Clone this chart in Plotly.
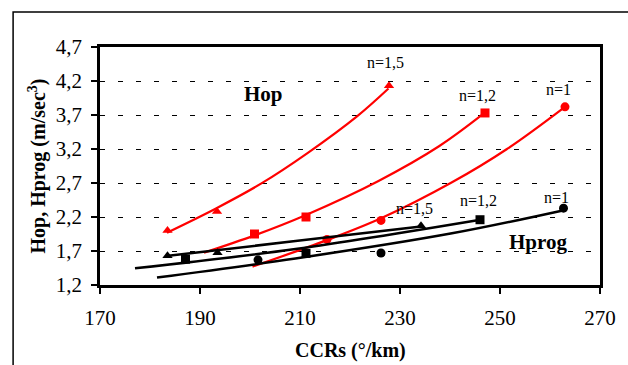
import plotly.graph_objects as go

# --- measured points (CCRs in °/km, H in m/sec^3) ---
hop_15_x = [183.5, 193.4, 227.8]
hop_15_y = [2.00, 2.28, 4.13]
hop_12_x = [200.9, 211.2, 247.0]
hop_12_y = [1.95, 2.20, 3.73]
hop_10_x = [215.4, 226.2, 263.0]
hop_10_y = [1.87, 2.15, 3.82]

hprog_15_x = [183.5, 193.5, 234.2]
hprog_15_y = [1.63, 1.675, 2.07]
hprog_12_x = [187.1, 211.2, 246.0]
hprog_12_y = [1.58, 1.665, 2.16]
hprog_10_x = [201.6, 226.2, 262.7]
hprog_10_y = [1.57, 1.67, 2.33]

# --- trend curves ---
trend_hop_15_x = [183.4, 193.3, 202.2, 211.5, 221.4, 227.7]
trend_hop_15_y = [1.97, 2.33, 2.69, 3.14, 3.68, 4.09]
trend_hop_12_x = [190.8, 200.9, 211.2, 225.7, 237.8, 246.9]
trend_hop_12_y = [1.675, 1.93, 2.23, 2.73, 3.24, 3.73]
trend_hop_10_x = [200.5, 215.4, 226.2, 240.4, 251.4, 263.0]
trend_hop_10_y = [1.47, 1.86, 2.18, 2.71, 3.20, 3.82]

trend_hprog_15_x = [183.7, 209.1, 234.2]
trend_hprog_15_y = [1.63, 1.846, 2.06]
trend_hprog_12_x = [177.0, 209.1, 246.1]
trend_hprog_12_y = [1.445, 1.73, 2.16]
trend_hprog_10_x = [181.4, 209.1, 240.4, 262.8]
trend_hprog_10_y = [1.31, 1.59, 1.96, 2.30]

# --- axis ticks ---
x_ticks = [170, 190, 210, 230, 250, 270]
y_ticks = [1.2, 1.7, 2.2, 2.7, 3.2, 3.7, 4.2, 4.7]
y_tick_text = ["1,2", "1,7", "2,2", "2,7", "3,2", "3,7", "4,2", "4,7"]

# --- curve labels ---
label_text = ["n=1,5", "n=1,2", "n=1", "n=1,5", "n=1,2", "n=1"]
label_x = [227.1, 245.4, 261.6, 232.9, 245.6, 261.3]
label_y = [4.465, 3.98, 4.075, 2.33, 2.44, 2.48]

RED = "#ff0000"
BLACK = "#000000"
SERIF = "Liberation Serif, Times New Roman, serif"

fig = go.Figure()

series = [
    (trend_hop_15_x, trend_hop_15_y, hop_15_x, hop_15_y, RED, "triangle-up"),
    (trend_hop_12_x, trend_hop_12_y, hop_12_x, hop_12_y, RED, "square"),
    (trend_hop_10_x, trend_hop_10_y, hop_10_x, hop_10_y, RED, "circle"),
    (trend_hprog_15_x, trend_hprog_15_y, hprog_15_x, hprog_15_y, BLACK, "triangle-up"),
    (trend_hprog_12_x, trend_hprog_12_y, hprog_12_x, hprog_12_y, BLACK, "square"),
    (trend_hprog_10_x, trend_hprog_10_y, hprog_10_x, hprog_10_y, BLACK, "circle"),
]

for tx, ty, px, py, col, sym in series:
    fig.add_trace(go.Scatter(
        x=px, y=py, mode="markers",
        marker=dict(symbol=sym, size=9, color=col, line=dict(width=0)),
        showlegend=False, hoverinfo="skip",
    ))
    fig.add_trace(go.Scatter(
        x=tx, y=ty, mode="lines",
        line=dict(color=col, width=2.5 if col == BLACK else 2.2, shape="spline", smoothing=1.0),
        showlegend=False, hoverinfo="skip",
    ))

for t, x, y in zip(label_text, label_x, label_y):
    fig.add_annotation(x=x, y=y, text=t, showarrow=False,
                       font=dict(family=SERIF, size=16, color=BLACK),
                       xanchor="center", yanchor="middle")

fig.add_annotation(x=202.6, y=4.01, text="<b>Hop</b>", showarrow=False,
                   font=dict(family=SERIF, size=21, color=BLACK),
                   xanchor="center", yanchor="middle")
fig.add_annotation(x=257.6, y=1.83, text="<b>Hprog</b>", showarrow=False,
                   font=dict(family=SERIF, size=21, color=BLACK),
                   xanchor="center", yanchor="middle")

# axis titles
fig.add_annotation(xref="paper", yref="paper", x=0.5, y=-0.277,
                   text="<b>CCRs (°/km)</b>", showarrow=False,
                   font=dict(family=SERIF, size=20, color=BLACK),
                   xanchor="center", yanchor="middle")
fig.add_annotation(xref="paper", yref="paper", x=-0.127, y=0.5,
                   text="<b>Hop, Hprog (m/sec<sup>3</sup>)</b>", showarrow=False,
                   textangle=-90,
                   font=dict(family=SERIF, size=20, color=BLACK),
                   xanchor="center", yanchor="middle")

# outer frame (left and top edges)
fig.add_shape(type="path", xref="paper", yref="paper",
              path="M -0.1738,-0.40 L -0.1738,1.147 L 1.10,1.147",
              line=dict(color=BLACK, width=1.5))

fig.update_xaxes(
    range=[170, 270], tickvals=x_ticks, ticktext=[str(v) for v in x_ticks],
    showgrid=False, zeroline=False,
    showline=True, mirror=True, linecolor=BLACK, linewidth=2.5,
    ticks="outside", ticklen=6, tickwidth=2, tickcolor=BLACK,
    ticklabelstandoff=6,
    tickfont=dict(family=SERIF, size=21, color=BLACK),
)
fig.update_yaxes(
    range=[1.2, 4.7], tickvals=y_ticks, ticktext=y_tick_text,
    showgrid=True, gridcolor=BLACK, gridwidth=1, griddash="5px,13px",
    zeroline=False,
    showline=True, mirror=True, linecolor=BLACK, linewidth=2.5,
    ticks="outside", ticklen=6, tickwidth=2, tickcolor=BLACK,
    ticklabelstandoff=5,
    tickfont=dict(family=SERIF, size=21, color=BLACK),
)

fig.update_layout(
    width=628, height=365,
    margin=dict(l=100, r=16, t=47, b=80),
    paper_bgcolor="white", plot_bgcolor="white",
    showlegend=False,
)

fig.write_html("out.html")
